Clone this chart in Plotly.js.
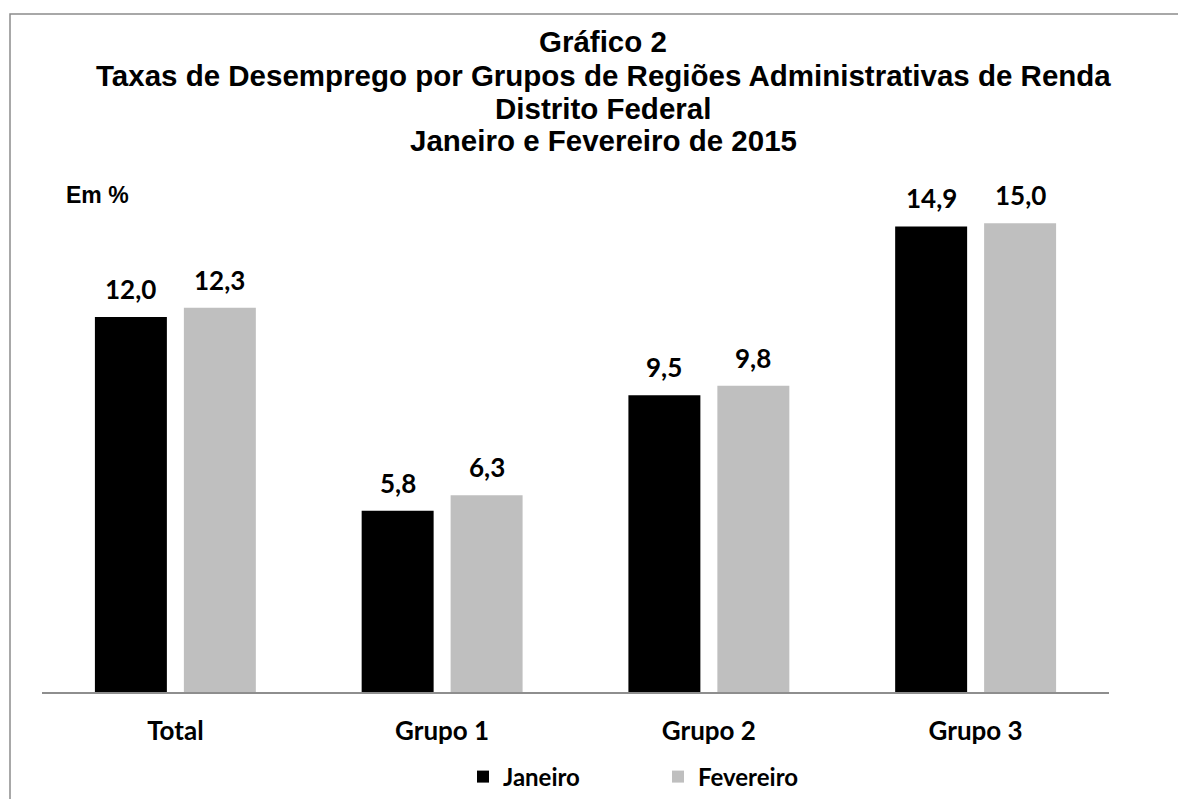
<!DOCTYPE html>
<html>
<head>
<meta charset="utf-8">
<script src="https://cdn.plot.ly/plotly-3.0.1.min.js"></script>
<style>html,body{margin:0;padding:0;background:#fff;}#chart{width:1178px;height:799px;}</style>
</head>
<body>
<div id="chart"></div>
<script>
const categories = ["Total", "Grupo 1", "Grupo 2", "Grupo 3"];
const janeiro = [12.0, 5.8, 9.5, 14.9];
const fevereiro = [12.3, 6.3, 9.8, 15.0];
const seriesNames = ["Janeiro", "Fevereiro"];
const titleLines = [
  "Gráfico 2",
  "Taxas de Desemprego por Grupos de Regiões Administrativas de Renda",
  "Distrito Federal",
  "Janeiro e Fevereiro de 2015"
];
const unitLabel = "Em %";

const W = 1178, H = 799;
const M = {l: 42, r: 69, t: 192, b: 107};
const plotH = H - M.t - M.b;
const plotW = W - M.l - M.r;
const bargap = 0.333;
const labelFont = "Lato, 'Open Sans', sans-serif";
const titleFont = "'Liberation Sans', Arial, sans-serif";
const py = (pix) => (H - M.b - pix) / plotH;   // pixel y -> paper y
const px = (pix) => (pix - M.l) / plotW;       // pixel x -> paper x

const fmt = v => v.toFixed(1).replace('.', ',');

const traces = [
  {type: 'bar', name: seriesNames[0], x: categories, y: janeiro,
   marker: {color: '#000000'}, hoverinfo: 'none'},
  {type: 'bar', name: seriesNames[1], x: categories, y: fevereiro,
   marker: {color: '#bfbfbf'}, hoverinfo: 'none'}
];

const annotations = [];
const off = (1 - bargap) / 4;
[janeiro, fevereiro].forEach((arr, s) => {
  arr.forEach((v, i) => {
    annotations.push({
      x: i + (s === 0 ? -off : off), y: v, xref: 'x', yref: 'y',
      text: '<b>' + fmt(v) + '</b>', showarrow: false,
      yanchor: 'middle', yshift: 28,
      font: {family: labelFont, size: 26, color: '#000'}
    });
  });
});
const titleY = [42, 75, 108, 141];
titleLines.forEach((t, k) => {
  annotations.push({
    xref: 'paper', yref: 'paper', x: px(603), y: py(titleY[k]),
    xanchor: 'center', yanchor: 'middle', showarrow: false,
    text: '<b>' + t + '</b>',
    font: {family: titleFont, size: 29.5, color: '#000'}
  });
});
annotations.push({
  xref: 'paper', yref: 'paper', x: px(64), y: py(195),
  xanchor: 'left', yanchor: 'middle', showarrow: false,
  text: '<b>' + unitLabel + '</b>',
  font: {family: titleFont, size: 23, color: '#000'}
});

const layout = {
  width: W, height: H,
  margin: M,
  paper_bgcolor: '#ffffff', plot_bgcolor: '#ffffff',
  barmode: 'group', bargap: bargap, bargroupgap: 0.191,
  separators: ',.',
  showlegend: true,
  legend: {
    orientation: 'h', xref: 'container', yref: 'container',
    x: 463 / W, xanchor: 'left', y: 1 - 777 / H, yanchor: 'middle',
    font: {family: labelFont, size: 24, color: '#000'},
    entrywidth: 150, traceorder: 'normal'
  },
  xaxis: {
    type: 'category', showline: true, linecolor: '#8e8e8e', linewidth: 1.5,
    ticks: '', showgrid: false, zeroline: false, automargin: false,
    tickfont: {family: labelFont, size: 26, color: '#000'},
    ticklabelstandoff: 15
  },
  yaxis: {
    range: [0, 16], visible: false, showgrid: false, zeroline: false, automargin: false
  },
  annotations: annotations,
  shapes: [{
    type: 'rect', xref: 'paper', yref: 'paper',
    x0: px(10), x1: px(1300), y0: py(900), y1: py(14),
    line: {color: '#8c8c8c', width: 1.5}, fillcolor: 'rgba(0,0,0,0)', layer: 'below'
  }]
};

Plotly.newPlot('chart', traces, layout, {displayModeBar: false, staticPlot: true}).then(() => {
  document.querySelectorAll('.legendtext').forEach(el => el.style.fontWeight = 'bold');
  document.querySelectorAll('.xtick text').forEach(el => el.style.fontWeight = 'bold');
});
</script>
</body>
</html>
